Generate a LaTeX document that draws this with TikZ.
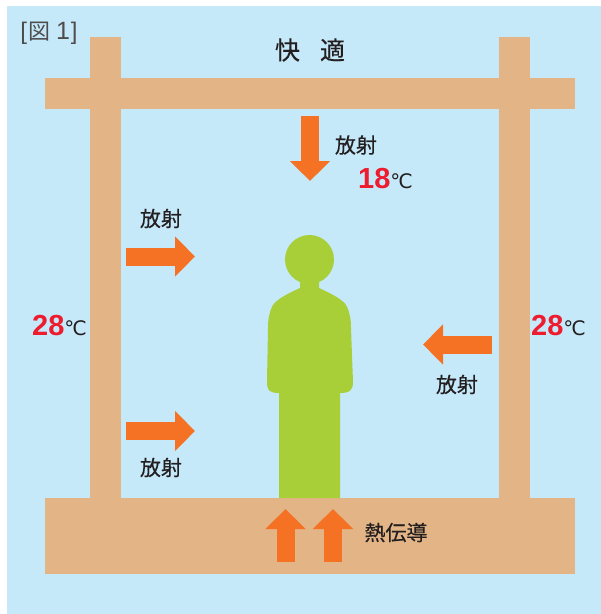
\documentclass[tikz,border=0pt]{standalone}
\usepackage{fontspec}
\setmainfont{Liberation Sans}
\newfontfamily\jpfont[FakeBold=0.35]{Noto Sans CJK JP}
\newfontfamily\jplight{Noto Sans CJK JP}
\newfontfamily\degfont{DejaVu Sans}
\usetikzlibrary{arrows.meta}
\definecolor{roomblue}{HTML}{C6E9FA}
\definecolor{woodtan}{HTML}{E2B486}
\definecolor{heatorange}{HTML}{F57224}
\definecolor{bodygreen}{HTML}{A8CF38}
\definecolor{tempred}{HTML}{ED1C2E}
\definecolor{inkblack}{HTML}{231F20}
\tikzset{
  beam/.style={fill=woodtan},
  heatarrow/.style={draw=heatorange, line width=18pt, -{Triangle[length=20pt,width=39pt]}},
  jplabel/.style={inner sep=0pt, text=inkblack, font=\jpfont\fontsize{21}{21}\selectfont},
  templabel/.style={inner sep=0pt, text=inkblack, font=\fontsize{29}{29}\selectfont},
}
\newcommand{\tempval}[1]{\textcolor{tempred}{\bfseries #1}{\degfont\fontsize{20}{20}\selectfont ℃}}
\begin{document}
\begin{tikzpicture}[x=1pt, y=-1pt]
  \useasboundingbox (0,0) rectangle (601,614);
  \fill[roomblue] (7,6) rectangle (601,614);
  % frame
  \fill[beam] (90,37) rectangle (121,498);
  \fill[beam] (499,37) rectangle (530,498);
  \fill[beam] (45,78) rectangle (575,109);
  \fill[beam] (45,498) rectangle (575,574);
  % person
  \fill[bodygreen] (309.5,259.5) circle (24.5);
  \fill[bodygreen] (300,278) -- (319,278) -- (319,288)
    .. controls (330,293) and (342,299) .. (346,305)
    .. controls (350,312) and (351,320) .. (351,328)
    -- (353,382) .. controls (353,390) and (350,393) .. (340,393)
    -- (340,498) -- (279,498) -- (279,393)
    .. controls (269,393) and (267,390) .. (267,382)
    -- (268,328) .. controls (268,320) and (269,312) .. (273,305)
    .. controls (277,299) and (289,293) .. (300,288) -- cycle;
  % arrows
  \coordinate (topstart) at (310,116);
  \coordinate (topend) at (310,181);
  \coordinate (leftastart) at (126,256.5);
  \coordinate (leftaend) at (195,256.5);
  \coordinate (leftbstart) at (126,431);
  \coordinate (leftbend) at (195,431);
  \coordinate (rightstart) at (492,344.5);
  \coordinate (rightend) at (423,344.5);
  \coordinate (flooraend) at (285.5,509);
  \coordinate (flooragain) at (285.5,562);
  \coordinate (floorbend) at (333,509);
  \coordinate (floorbgain) at (333,562);
  \draw[heatarrow] (topstart) -- (topend);
  \draw[heatarrow] (leftastart) -- (leftaend);
  \draw[heatarrow] (leftbstart) -- (leftbend);
  \draw[heatarrow] (rightstart) -- (rightend);
  \draw[heatarrow] (flooragain) -- (flooraend);
  \draw[heatarrow] (floorbgain) -- (floorbend);
  % labels
  \node[inner sep=0pt, text=inkblack!80, font=\fontsize{24}{24}\selectfont] (figlabel) at (49,33.5)
    {[\kern1pt{\jplight\fontsize{22}{22}\selectfont 図}\hspace{6pt}{\fontsize{25}{25}\selectfont 1}\hspace{1pt}]};
  \node[jplabel, font=\jpfont\fontsize{25}{25}\selectfont] (title) at (310,50) {快\hspace{0.8em}適};
  \node[jplabel] (radtop) at (356,145) {放射};
  \node[jplabel] (radlefta) at (161,218.5) {放射};
  \node[jplabel] (radleftb) at (161,467.5) {放射};
  \node[jplabel] (radright) at (457,384.5) {放射};
  \node[jplabel] (conduct) at (396,532.5) {熱伝導};
  \node[templabel] (temptop) at (385.5,178.5) {\tempval{18}};
  \node[templabel] (templeft) at (59.5,325.5) {\tempval{28}};
  \node[templabel] (tempright) at (558.5,325.5) {\tempval{28}};
\end{tikzpicture}
\end{document}
